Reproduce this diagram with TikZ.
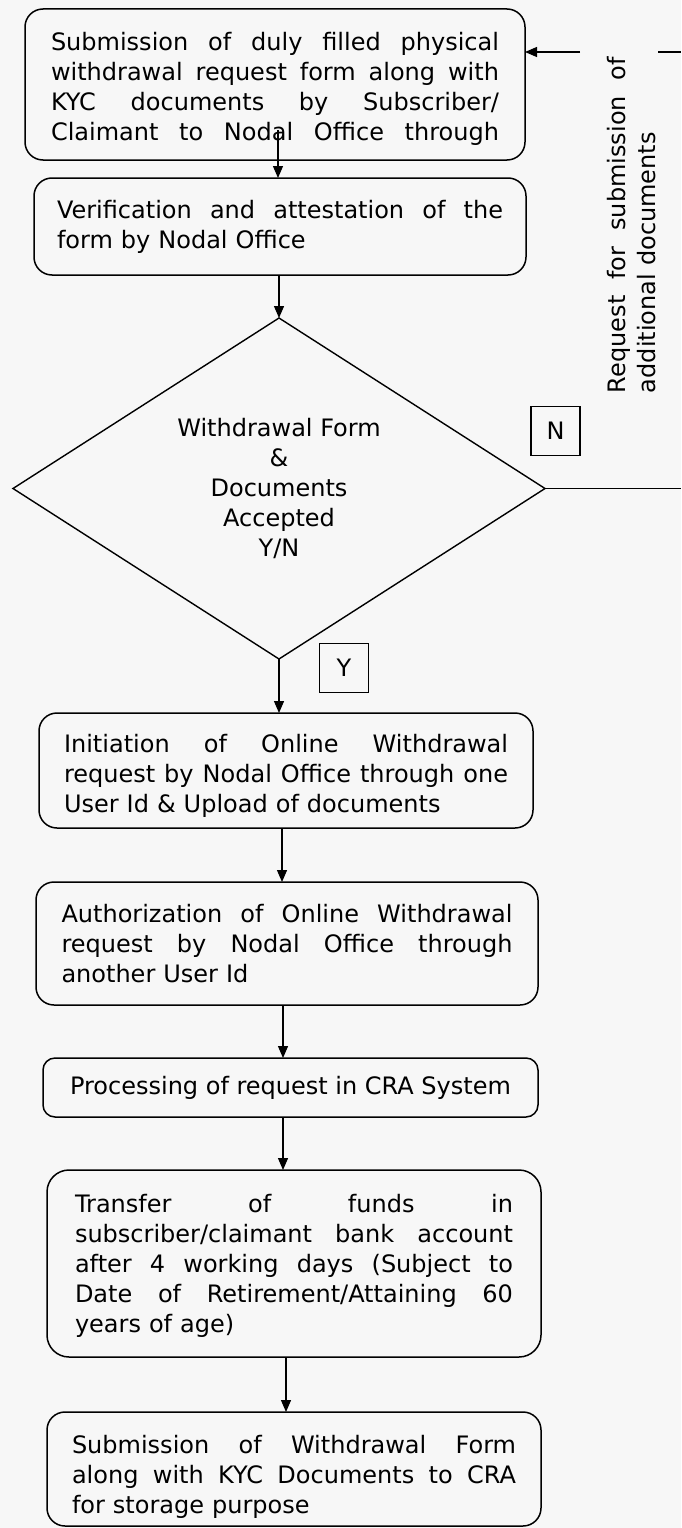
\documentclass[tikz,border=0pt]{standalone}
\usepackage{fontspec}
\setmainfont{DejaVu Sans}
\usetikzlibrary{shapes.geometric,arrows.meta}
% justified line of a given width
\newcommand{\J}[2]{\makebox[#1][s]{\spaceskip=0.32em plus 1fil\relax #2}}
\newcommand{\lift}[1]{\rule{0pt}{#1}}
\begin{document}
\begin{tikzpicture}[x=1pt,y=-1pt,
  every node/.style={font=\fontsize{24}{30}\selectfont, inner sep=0pt, outer sep=0pt,
    execute at begin node=\setlength{\parindent}{0pt}},
  stepbox/.style={draw, line width=1.5pt, rounded corners=18pt, align=left},
  flag/.style={draw, line width=1.2pt, minimum width=49pt, minimum height=49pt},
  conn/.style={line width=1.3pt},
  arr/.style={conn, -{Triangle[length=12pt,width=10pt]}}]
\fill[black!3] (0,0) rectangle (681,1528);
\useasboundingbox (0,0) rectangle (681,1528);

% boxes
\node[stepbox, minimum width=500pt, minimum height=151pt, text width=448pt] (b1) at (275,84.5)
  {\lift{27pt}\J{448pt}{Submission of duly filled physical}\\\J{448pt}{withdrawal request form along with}\\\J{448pt}{KYC documents by Subscriber/}\\\J{448pt}{Claimant to Nodal Office through}};
\node[stepbox, minimum width=492pt, minimum height=97pt, text width=446pt] (b2) at (280,226.5)
  {\J{446pt}{Verification and attestation of the}\\form by Nodal Office};
\node[diamond, draw, line width=1.4pt, shape aspect=1.56, minimum width=532pt, minimum height=341pt, align=center] (dia) at (279,488.5)
  {Withdrawal Form\\\&\\Documents\\Accepted\\Y/N};
\node[stepbox, minimum width=494pt, minimum height=115pt, text width=444pt] (b3) at (286,770.5)
  {\lift{29pt}\J{444pt}{Initiation of Online Withdrawal}\\\J{444pt}{request by Nodal Office through one}\\User Id \& Upload of documents};
\node[stepbox, minimum width=502pt, minimum height=123pt, text width=451pt] (b4) at (287,943.5)
  {\J{451pt}{Authorization of Online Withdrawal}\\\J{451pt}{request by Nodal Office through}\\another User Id};
\node[stepbox, rounded corners=12pt, minimum width=495pt, minimum height=59pt] (b5) at (290.5,1087.5)
  {Processing of request in CRA System};
\node[stepbox, rounded corners=22pt, minimum width=494pt, minimum height=187pt, text width=438pt] (b6) at (294,1263.5)
  {\lift{22pt}\J{438pt}{Transfer of funds in}\\\J{438pt}{subscriber/claimant bank account}\\\J{438pt}{after 4 working days (Subject to}\\\J{438pt}{Date of Retirement/Attaining 60}\\years of age)};
\node[stepbox, minimum width=494pt, minimum height=114pt, text width=444pt] (b7) at (294,1469)
  {\lift{33pt}\J{444pt}{Submission of Withdrawal Form}\\\J{444pt}{along with KYC Documents to CRA}\\for storage purpose};

% flags
\node[flag] (nflag) at (555.5,431) {N};
\node[flag] (yflag) at (344,668) {Y};

% side label
\node[rotate=90, text width=336pt, align=left] (req) at (632,225)
  {\J{336pt}{Request for submission of}\\additional documents};

% connectors
\draw[arr] ([xshift=3pt,yshift=30pt]b1.south) -- ([xshift=-2pt]b2.north);
\draw[arr] ([xshift=-1pt]b2.south) -- (dia.north);
\draw[arr] (dia.south) -- ([xshift=-7pt]b3.north);
\draw[arr] ([xshift=-4pt]b3.south) -- ([xshift=-5pt]b4.north);
\draw[arr] ([xshift=-4pt]b4.south) -- ([xshift=-7.5pt]b5.north);
\draw[arr] ([xshift=-7.5pt]b5.south) -- ([xshift=-11pt]b6.north);
\draw[arr] ([xshift=-8pt]b6.south) -- ([xshift=-8pt]b7.north);

% feedback loop (runs off the right edge)
\coordinate (eR) at (681,488.5);
\coordinate (eT) at (681,52);
\coordinate (gR) at (658,52);
\coordinate (gL) at (580,52);
\draw[conn] (dia.east) -- (eR);
\draw[conn] (gR) -- (eT);
\draw[arr] (gL) -- (gL -| b1.east);
\end{tikzpicture}
\end{document}
